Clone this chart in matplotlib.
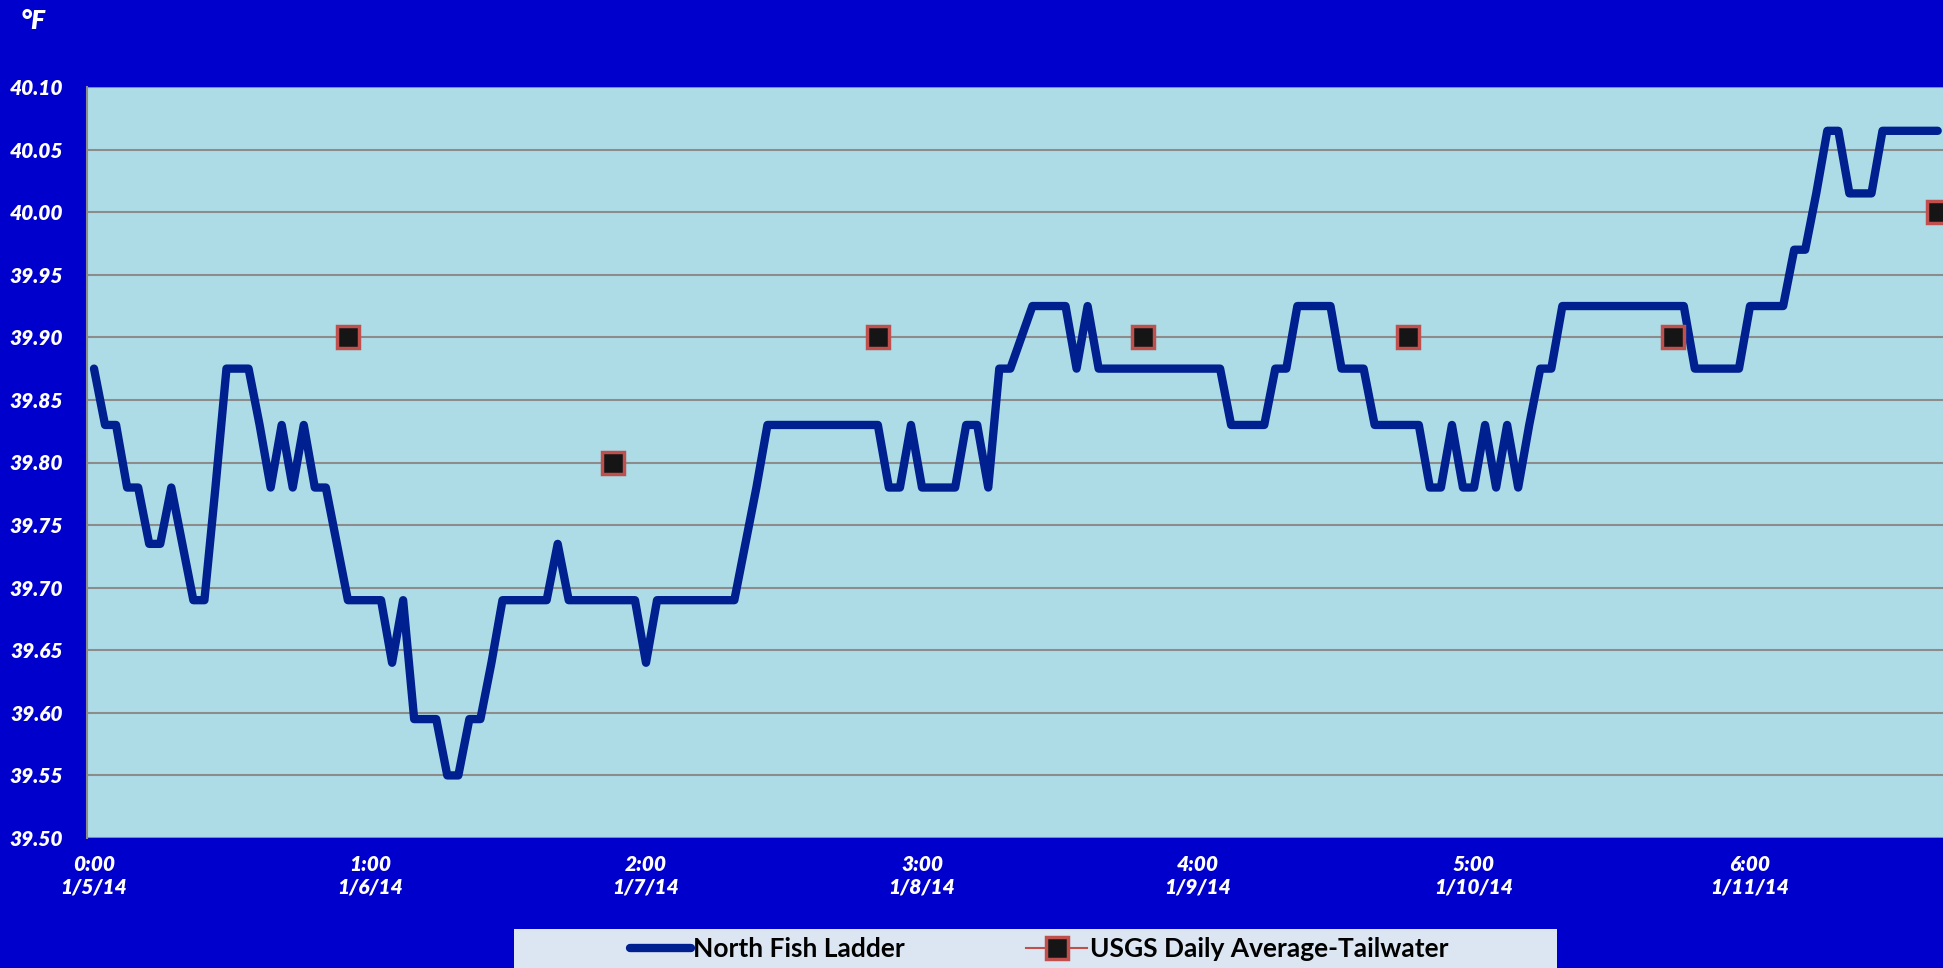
import matplotlib
matplotlib.use('Agg')
import matplotlib.pyplot as plt
from matplotlib.lines import Line2D
from matplotlib.patches import Rectangle
import numpy as np

# ---------------- data ----------------
hours = list(range(168))
north_fish_ladder = [
    39.875, 39.83, 39.83, 39.78, 39.78, 39.735, 39.735, 39.78, 39.735, 39.69,   # 0-9
    39.69, 39.78, 39.875, 39.875, 39.875, 39.83, 39.78, 39.83, 39.78, 39.83,    # 10-19
    39.78, 39.78, 39.735, 39.69, 39.69, 39.69, 39.69, 39.64, 39.69, 39.595,     # 20-29
    39.595, 39.595, 39.55, 39.55, 39.595, 39.595, 39.64, 39.69, 39.69, 39.69,   # 30-39
    39.69, 39.69, 39.735, 39.69, 39.69, 39.69, 39.69, 39.69, 39.69, 39.69,      # 40-49
    39.64, 39.69, 39.69, 39.69, 39.69, 39.69, 39.69, 39.69, 39.69, 39.735,      # 50-59
    39.78, 39.83, 39.83, 39.83, 39.83, 39.83, 39.83, 39.83, 39.83, 39.83,       # 60-69
    39.83, 39.83, 39.78, 39.78, 39.83, 39.78, 39.78, 39.78, 39.78, 39.83,       # 70-79
    39.83, 39.78, 39.875, 39.875, 39.90, 39.925, 39.925, 39.925, 39.925, 39.875,  # 80-89
    39.925, 39.875, 39.875, 39.875, 39.875, 39.875, 39.875, 39.875, 39.875, 39.875,  # 90-99
    39.875, 39.875, 39.875, 39.83, 39.83, 39.83, 39.83, 39.875, 39.875, 39.925,  # 100-109
    39.925, 39.925, 39.925, 39.875, 39.875, 39.875, 39.83, 39.83, 39.83, 39.83,  # 110-119
    39.83, 39.78, 39.78, 39.83, 39.78, 39.78, 39.83, 39.78, 39.83, 39.78,       # 120-129
    39.83, 39.875, 39.875, 39.925, 39.925, 39.925, 39.925, 39.925, 39.925, 39.925,  # 130-139
    39.925, 39.925, 39.925, 39.925, 39.925, 39.875, 39.875, 39.875, 39.875, 39.875,  # 140-149
    39.925, 39.925, 39.925, 39.925, 39.97, 39.97, 40.015, 40.065, 40.065, 40.015,  # 150-159
    40.015, 40.015, 40.065, 40.065, 40.065, 40.065, 40.065, 40.065,              # 160-167
]
usgs_hours = [23, 47, 71, 95, 119, 143, 167]
usgs_daily_avg = [39.90, 39.80, 39.90, 39.90, 39.90, 39.90, 40.00]

tick_hours = [0, 25, 50, 75, 100, 125, 150]
tick_labels = ["0:00\n1/5/14", "1:00\n1/6/14", "2:00\n1/7/14", "3:00\n1/8/14",
               "4:00\n1/9/14", "5:00\n1/10/14", "6:00\n1/11/14"]
y_ticks = [39.50, 39.55, 39.60, 39.65, 39.70, 39.75, 39.80, 39.85, 39.90,
           39.95, 40.00, 40.05, 40.10]

series_names = ["North Fish Ladder", "USGS Daily Average-Tailwater"]

# ---------------- style ----------------
W, H = 1943, 968
BG = '#0000CC'
PLOT_BG = '#ADDCE7'
LINE_C = '#002090'
MK_EDGE = '#C0504D'
GRID_C = '#8C8C8C'
FONT = ['Lato', 'DejaVu Sans']

fig = plt.figure(figsize=(W / 100, H / 100), dpi=100, facecolor=BG)
ax = fig.add_axes([87 / W, 1 - 838 / H, 1 - 87 / W, (838 - 87) / H])
ax.set_facecolor(PLOT_BG)

ax.plot(hours, north_fish_ladder, color=LINE_C, lw=6,
        solid_joinstyle='round', solid_capstyle='round', zorder=3)
ax.plot(usgs_hours, usgs_daily_avg, ls='none', marker='s', ms=15.5,
        mfc='#151515', mec=MK_EDGE, mew=2.5, zorder=4)

ax.set_xlim(-0.634, 167.48)
ax.set_ylim(39.50, 40.10)
ax.set_yticks(y_ticks)
ax.set_yticklabels([f"{v:.2f}" for v in y_ticks])
ax.set_xticks(tick_hours)
ax.set_xticklabels(tick_labels, linespacing=1.25)

ax.grid(axis='y', color=GRID_C, lw=1.5, zorder=1)
ax.set_axisbelow(True)
for s in ['right', 'bottom', 'top']:
    ax.spines[s].set_visible(False)
ax.spines['left'].set_color(GRID_C)
ax.spines['left'].set_linewidth(1.5)

ax.tick_params(axis='y', length=0, pad=17, labelcolor='white')
ax.tick_params(axis='x', length=0, pad=12, labelcolor='white')
for lab in ax.get_yticklabels() + ax.get_xticklabels():
    lab.set_fontfamily(FONT)
    lab.set_fontsize(15)
    lab.set_fontweight('heavy')
    lab.set_fontstyle('italic')

fig.text(21 / W, 1 - 21 / H, '°F', color='white', fontsize=19,
         fontweight='heavy', fontstyle='italic', family=FONT, va='center', ha='left')

# legend box
fig.patches.append(Rectangle((514 / W, 0), (1557 - 514) / W, 39 / H,
                             transform=fig.transFigure, facecolor='#DCE6F2',
                             edgecolor='none', zorder=0))
handles = [Line2D([], [], color=LINE_C, lw=6, solid_capstyle='round'),
           Line2D([], [], color=MK_EDGE, lw=1.5, marker='s', ms=15.5,
                  mfc='#151515', mec=MK_EDGE, mew=2.5)]
leg = fig.legend(handles, series_names, loc='center',
                 bbox_to_anchor=(1039 / W, 1 - 949 / H), ncol=2, frameon=False,
                 prop={'family': FONT, 'size': 19, 'weight': 'bold'},
                 handlelength=2.3, handletextpad=0.1, columnspacing=4.6)
for t in leg.get_texts():
    t.set_color('black')

fig.savefig('out.png', dpi=100, facecolor=BG)
